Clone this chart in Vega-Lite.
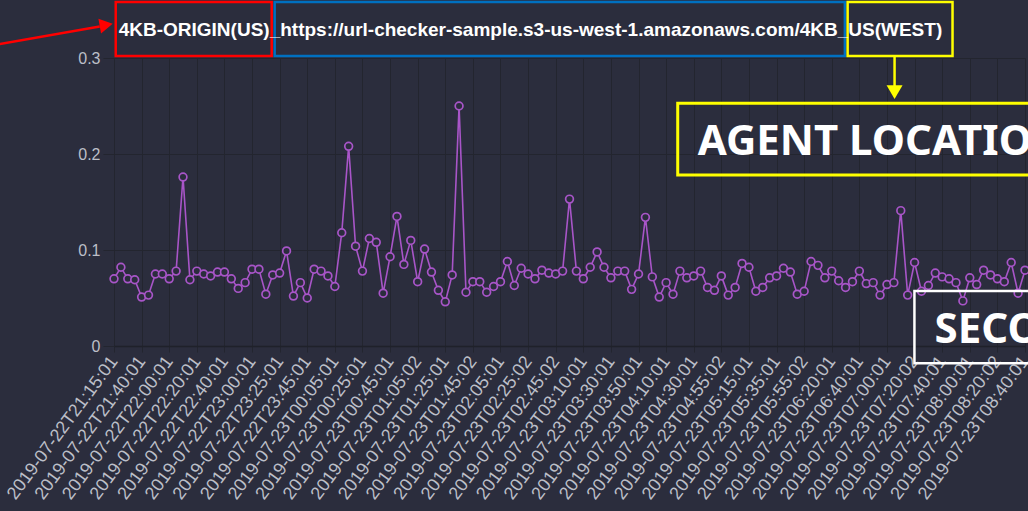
{
  "$schema": "https://vega.github.io/schema/vega-lite/v6.json",
  "width": 911,
  "height": 288,
  "autosize": {"type": "none"},
  "padding": {"left": 114, "top": 58, "right": 3, "bottom": 165},
  "background": "#2b2d3d",
  "config": {"view": {"stroke": null}},
  "resolve": {"scale": {"x": "independent", "y": "independent"}},
  "layer": [
    {
      "data": {"values": [
        {"t": "2019-07-22T21:15:01", "v": 0.070},
        {"t": "2019-07-22T21:20:01", "v": 0.082},
        {"t": "2019-07-22T21:25:01", "v": 0.070},
        {"t": "2019-07-22T21:35:01", "v": 0.069},
        {"t": "2019-07-22T21:40:01", "v": 0.051},
        {"t": "2019-07-22T21:45:01", "v": 0.053},
        {"t": "2019-07-22T21:50:01", "v": 0.075},
        {"t": "2019-07-22T21:55:01", "v": 0.075},
        {"t": "2019-07-22T22:00:01", "v": 0.070},
        {"t": "2019-07-22T22:05:01", "v": 0.078},
        {"t": "2019-07-22T22:10:01", "v": 0.176},
        {"t": "2019-07-22T22:15:01", "v": 0.069},
        {"t": "2019-07-22T22:20:01", "v": 0.078},
        {"t": "2019-07-22T22:25:01", "v": 0.075},
        {"t": "2019-07-22T22:30:01", "v": 0.073},
        {"t": "2019-07-22T22:35:01", "v": 0.077},
        {"t": "2019-07-22T22:40:01", "v": 0.077},
        {"t": "2019-07-22T22:45:01", "v": 0.070},
        {"t": "2019-07-22T22:50:01", "v": 0.060},
        {"t": "2019-07-22T22:55:01", "v": 0.066},
        {"t": "2019-07-22T23:00:01", "v": 0.080},
        {"t": "2019-07-22T23:05:01", "v": 0.080},
        {"t": "2019-07-22T23:10:01", "v": 0.054},
        {"t": "2019-07-22T23:20:01", "v": 0.074},
        {"t": "2019-07-22T23:25:01", "v": 0.076},
        {"t": "2019-07-22T23:30:01", "v": 0.099},
        {"t": "2019-07-22T23:35:01", "v": 0.052},
        {"t": "2019-07-22T23:40:01", "v": 0.066},
        {"t": "2019-07-22T23:45:01", "v": 0.050},
        {"t": "2019-07-22T23:50:01", "v": 0.080},
        {"t": "2019-07-22T23:55:01", "v": 0.078},
        {"t": "2019-07-23T00:00:01", "v": 0.073},
        {"t": "2019-07-23T00:05:01", "v": 0.062},
        {"t": "2019-07-23T00:10:01", "v": 0.118},
        {"t": "2019-07-23T00:15:01", "v": 0.208},
        {"t": "2019-07-23T00:20:01", "v": 0.104},
        {"t": "2019-07-23T00:25:01", "v": 0.078},
        {"t": "2019-07-23T00:30:01", "v": 0.112},
        {"t": "2019-07-23T00:35:01", "v": 0.108},
        {"t": "2019-07-23T00:40:01", "v": 0.055},
        {"t": "2019-07-23T00:45:01", "v": 0.093},
        {"t": "2019-07-23T00:50:01", "v": 0.135},
        {"t": "2019-07-23T00:55:01", "v": 0.085},
        {"t": "2019-07-23T01:00:01", "v": 0.110},
        {"t": "2019-07-23T01:05:02", "v": 0.067},
        {"t": "2019-07-23T01:10:01", "v": 0.101},
        {"t": "2019-07-23T01:15:01", "v": 0.077},
        {"t": "2019-07-23T01:20:01", "v": 0.058},
        {"t": "2019-07-23T01:25:01", "v": 0.046},
        {"t": "2019-07-23T01:30:01", "v": 0.074},
        {"t": "2019-07-23T01:35:01", "v": 0.250},
        {"t": "2019-07-23T01:40:01", "v": 0.056},
        {"t": "2019-07-23T01:45:02", "v": 0.067},
        {"t": "2019-07-23T01:50:01", "v": 0.067},
        {"t": "2019-07-23T01:55:01", "v": 0.056},
        {"t": "2019-07-23T02:00:01", "v": 0.062},
        {"t": "2019-07-23T02:05:01", "v": 0.067},
        {"t": "2019-07-23T02:10:01", "v": 0.088},
        {"t": "2019-07-23T02:15:01", "v": 0.063},
        {"t": "2019-07-23T02:20:01", "v": 0.081},
        {"t": "2019-07-23T02:25:02", "v": 0.075},
        {"t": "2019-07-23T02:30:01", "v": 0.070},
        {"t": "2019-07-23T02:35:01", "v": 0.079},
        {"t": "2019-07-23T02:40:01", "v": 0.076},
        {"t": "2019-07-23T02:45:02", "v": 0.075},
        {"t": "2019-07-23T02:50:01", "v": 0.078},
        {"t": "2019-07-23T02:55:01", "v": 0.153},
        {"t": "2019-07-23T03:05:01", "v": 0.078},
        {"t": "2019-07-23T03:10:01", "v": 0.070},
        {"t": "2019-07-23T03:15:01", "v": 0.082},
        {"t": "2019-07-23T03:20:01", "v": 0.098},
        {"t": "2019-07-23T03:25:01", "v": 0.082},
        {"t": "2019-07-23T03:30:01", "v": 0.071},
        {"t": "2019-07-23T03:35:01", "v": 0.078},
        {"t": "2019-07-23T03:40:01", "v": 0.078},
        {"t": "2019-07-23T03:45:01", "v": 0.059},
        {"t": "2019-07-23T03:50:01", "v": 0.075},
        {"t": "2019-07-23T03:55:01", "v": 0.134},
        {"t": "2019-07-23T04:00:01", "v": 0.072},
        {"t": "2019-07-23T04:05:01", "v": 0.051},
        {"t": "2019-07-23T04:10:01", "v": 0.066},
        {"t": "2019-07-23T04:15:01", "v": 0.054},
        {"t": "2019-07-23T04:20:01", "v": 0.078},
        {"t": "2019-07-23T04:25:01", "v": 0.071},
        {"t": "2019-07-23T04:30:01", "v": 0.073},
        {"t": "2019-07-23T04:35:01", "v": 0.078},
        {"t": "2019-07-23T04:40:01", "v": 0.061},
        {"t": "2019-07-23T04:50:01", "v": 0.058},
        {"t": "2019-07-23T04:55:02", "v": 0.073},
        {"t": "2019-07-23T05:00:01", "v": 0.053},
        {"t": "2019-07-23T05:05:01", "v": 0.061},
        {"t": "2019-07-23T05:10:01", "v": 0.086},
        {"t": "2019-07-23T05:15:01", "v": 0.082},
        {"t": "2019-07-23T05:20:01", "v": 0.057},
        {"t": "2019-07-23T05:25:01", "v": 0.061},
        {"t": "2019-07-23T05:30:01", "v": 0.071},
        {"t": "2019-07-23T05:35:01", "v": 0.073},
        {"t": "2019-07-23T05:40:01", "v": 0.081},
        {"t": "2019-07-23T05:45:01", "v": 0.077},
        {"t": "2019-07-23T05:50:01", "v": 0.054},
        {"t": "2019-07-23T05:55:02", "v": 0.057},
        {"t": "2019-07-23T06:00:01", "v": 0.088},
        {"t": "2019-07-23T06:05:01", "v": 0.084},
        {"t": "2019-07-23T06:15:01", "v": 0.071},
        {"t": "2019-07-23T06:20:01", "v": 0.078},
        {"t": "2019-07-23T06:25:01", "v": 0.068},
        {"t": "2019-07-23T06:30:01", "v": 0.061},
        {"t": "2019-07-23T06:35:01", "v": 0.067},
        {"t": "2019-07-23T06:40:01", "v": 0.078},
        {"t": "2019-07-23T06:45:01", "v": 0.065},
        {"t": "2019-07-23T06:50:01", "v": 0.066},
        {"t": "2019-07-23T06:55:01", "v": 0.053},
        {"t": "2019-07-23T07:00:01", "v": 0.064},
        {"t": "2019-07-23T07:05:01", "v": 0.066},
        {"t": "2019-07-23T07:10:01", "v": 0.141},
        {"t": "2019-07-23T07:15:01", "v": 0.053},
        {"t": "2019-07-23T07:20:02", "v": 0.087},
        {"t": "2019-07-23T07:25:01", "v": 0.057},
        {"t": "2019-07-23T07:30:01", "v": 0.063},
        {"t": "2019-07-23T07:35:01", "v": 0.076},
        {"t": "2019-07-23T07:40:01", "v": 0.072},
        {"t": "2019-07-23T07:45:01", "v": 0.070},
        {"t": "2019-07-23T07:50:01", "v": 0.066},
        {"t": "2019-07-23T07:55:01", "v": 0.047},
        {"t": "2019-07-23T08:00:01", "v": 0.071},
        {"t": "2019-07-23T08:05:01", "v": 0.064},
        {"t": "2019-07-23T08:10:01", "v": 0.079},
        {"t": "2019-07-23T08:15:01", "v": 0.074},
        {"t": "2019-07-23T08:20:02", "v": 0.070},
        {"t": "2019-07-23T08:25:01", "v": 0.067},
        {"t": "2019-07-23T08:30:01", "v": 0.087},
        {"t": "2019-07-23T08:35:01", "v": 0.055},
        {"t": "2019-07-23T08:40:01", "v": 0.079}
      ]},
      "encoding": {
        "x": {
          "field": "t", "type": "ordinal", "sort": null,
          "scale": {"type": "point", "padding": 0},
          "axis": {
            "title": null,
            "values": ["2019-07-22T21:15:01","2019-07-22T21:40:01","2019-07-22T22:00:01","2019-07-22T22:20:01","2019-07-22T22:40:01","2019-07-22T23:00:01","2019-07-22T23:25:01","2019-07-22T23:45:01","2019-07-23T00:05:01","2019-07-23T00:25:01","2019-07-23T00:45:01","2019-07-23T01:05:02","2019-07-23T01:25:01","2019-07-23T01:45:02","2019-07-23T02:05:01","2019-07-23T02:25:02","2019-07-23T02:45:02","2019-07-23T03:10:01","2019-07-23T03:30:01","2019-07-23T03:50:01","2019-07-23T04:10:01","2019-07-23T04:30:01","2019-07-23T04:55:02","2019-07-23T05:15:01","2019-07-23T05:35:01","2019-07-23T05:55:02","2019-07-23T06:20:01","2019-07-23T06:40:01","2019-07-23T07:00:01","2019-07-23T07:20:02","2019-07-23T07:40:01","2019-07-23T08:00:01","2019-07-23T08:20:02","2019-07-23T08:40:01"],
            "labelAngle": -53.5,
            "labelAlign": "right",
            "labelBaseline": "middle",
            "labelFont": "Liberation Sans",
            "labelFontSize": 18,
            "labelColor": "#bcbfc8",
            "labelOverlap": false,
            "labelBound": false,
            "labelPadding": 6,
            "grid": true,
            "gridColor": "#23252f",
            "gridWidth": 1,
            "ticks": true,
            "tickSize": 6,
            "tickColor": "#23252f",
            "domain": true,
            "domainColor": "#1f212a",
            "domainWidth": 1.5
          }
        },
        "y": {
          "field": "v", "type": "quantitative",
          "scale": {"domain": [0, 0.3], "nice": false, "zero": false},
          "axis": {
            "title": null,
            "values": [0, 0.1, 0.2, 0.3],
            "format": "~g",
            "labelFont": "Liberation Sans",
            "labelFontSize": 16,
            "labelColor": "#bcbfc8",
            "labelPadding": 3,
            "tickSize": 11,
            "tickColor": "#23252f",
            "grid": true,
            "gridColor": "#23252f",
            "domain": false
          }
        }
      },
      "layer": [
        {"mark": {"type": "line", "color": "#a855c8", "strokeWidth": 1.6}},
        {"mark": {"type": "point", "filled": true, "fill": "#2b2d3d", "stroke": "#a855c8", "strokeWidth": 1.7, "size": 60, "opacity": 1}}
      ]
    },
    {
      "layer": [
        {
          "data": {"values": [
            {"i": 0.25, "i2": 22.85, "v": 0.3583, "v2": 0.3021, "c": "#ff0000", "w": 2.5},
            {"i": 23.28, "i2": 105.9, "v": 0.3583, "v2": 0.3021, "c": "#0070c0", "w": 2.5},
            {"i": 106.3, "i2": 121.5, "v": 0.3583, "v2": 0.3021, "c": "#ffff00", "w": 2.5},
            {"i": 81.68, "i2": 140, "v": 0.2528, "v2": 0.1781, "c": "#ffff00", "w": 3},
            {"i": 115.98, "i2": 140, "v": 0.0573, "v2": -0.018, "c": "#ffffff", "w": 2.5}
          ]},
          "mark": {"type": "rect", "fill": "transparent"},
          "encoding": {
            "x": {"field": "i", "type": "quantitative", "scale": {"domain": [0, 132], "nice": false, "zero": false}, "axis": null},
            "x2": {"field": "i2"},
            "y": {"field": "v", "type": "quantitative", "scale": {"domain": [0, 0.3], "nice": false, "zero": false}, "axis": null},
            "y2": {"field": "v2"},
            "stroke": {"field": "c", "type": "nominal", "scale": null, "legend": null},
            "strokeWidth": {"field": "w", "type": "quantitative", "scale": null, "legend": null}
          }
        },
        {
          "data": {"values": [
            {"i": -16.56, "i2": -2.07, "v": 0.3146, "v2": 0.3328, "c": "#ff0000"},
            {"i": 113.1, "i2": 113.1, "v": 0.3021, "v2": 0.266, "c": "#ffff00"}
          ]},
          "mark": {"type": "rule", "strokeWidth": 2.5},
          "encoding": {
            "x": {"field": "i", "type": "quantitative", "scale": {"domain": [0, 132], "nice": false, "zero": false}, "axis": null},
            "x2": {"field": "i2"},
            "y": {"field": "v", "type": "quantitative", "scale": {"domain": [0, 0.3], "nice": false, "zero": false}, "axis": null},
            "y2": {"field": "v2"},
            "color": {"field": "c", "type": "nominal", "scale": null, "legend": null}
          }
        },
        {
          "data": {"values": [
            {"i": -1.13, "v": 0.3344, "c": "#ff0000"}
          ]},
          "mark": {"type": "point", "filled": true, "opacity": 1, "size": 230, "shape": "triangle-right", "angle": -10},
          "encoding": {
            "x": {"field": "i", "type": "quantitative", "scale": {"domain": [0, 132], "nice": false, "zero": false}, "axis": null},
            "y": {"field": "v", "type": "quantitative", "scale": {"domain": [0, 0.3], "nice": false, "zero": false}, "axis": null},
            "color": {"field": "c", "type": "nominal", "scale": null, "legend": null}
          }
        },
        {
          "data": {"values": [
            {"i": 113.1, "v": 0.2645, "c": "#ffff00"}
          ]},
          "mark": {"type": "point", "filled": true, "opacity": 1, "size": 256, "shape": "triangle-down"},
          "encoding": {
            "x": {"field": "i", "type": "quantitative", "scale": {"domain": [0, 132], "nice": false, "zero": false}, "axis": null},
            "y": {"field": "v", "type": "quantitative", "scale": {"domain": [0, 0.3], "nice": false, "zero": false}, "axis": null},
            "color": {"field": "c", "type": "nominal", "scale": null, "legend": null}
          }
        },
        {
          "data": {"values": [
            {"i": 0.68, "v": 0.3229, "txt": "4KB-ORIGIN(US)_https://url-checker-sample.s3-us-west-1.amazonaws.com/4KB_US(WEST)"}
          ]},
          "mark": {"type": "text", "font": "Liberation Sans", "fontWeight": "bold", "fontSize": 19, "color": "#ffffff", "align": "left", "baseline": "alphabetic"},
          "encoding": {
            "x": {"field": "i", "type": "quantitative", "scale": {"domain": [0, 132], "nice": false, "zero": false}, "axis": null},
            "y": {"field": "v", "type": "quantitative", "scale": {"domain": [0, 0.3], "nice": false, "zero": false}, "axis": null},
            "text": {"field": "txt"}
          }
        },
        {
          "data": {"values": [
            {"i": 84.57, "v": 0.199, "txt": "AGENT LOCATION"},
            {"i": 118.9, "v": 0.0028, "txt": "SECONDS"}
          ]},
          "mark": {"type": "text", "font": "Noto Sans", "fontWeight": "bold", "fontSize": 42, "color": "#ffffff", "align": "left", "baseline": "alphabetic"},
          "encoding": {
            "x": {"field": "i", "type": "quantitative", "scale": {"domain": [0, 132], "nice": false, "zero": false}, "axis": null},
            "y": {"field": "v", "type": "quantitative", "scale": {"domain": [0, 0.3], "nice": false, "zero": false}, "axis": null},
            "text": {"field": "txt"}
          }
        }
      ]
    }
  ]
}
